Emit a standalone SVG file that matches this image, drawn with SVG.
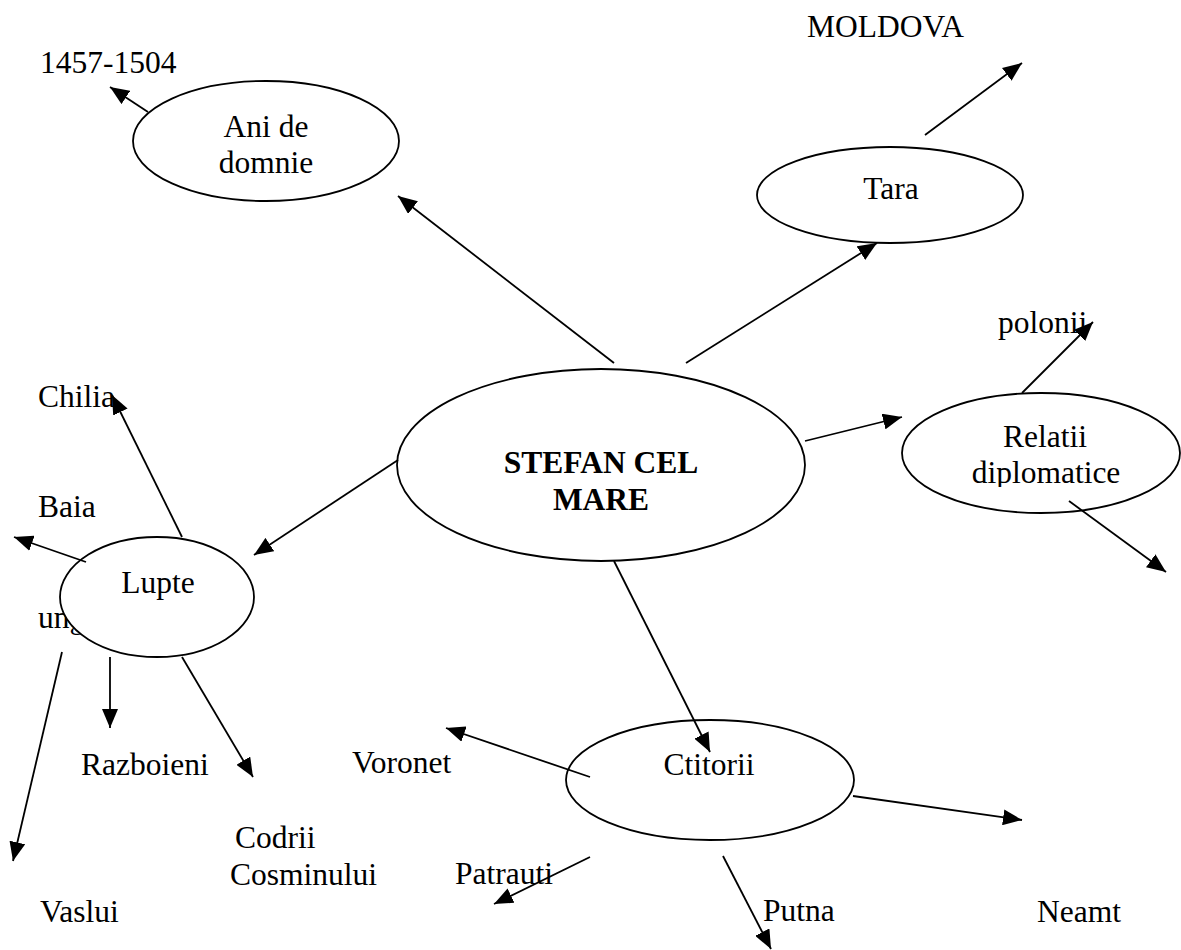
<svg xmlns="http://www.w3.org/2000/svg" width="1181" height="950" viewBox="0 0 1181 950" font-family="'Liberation Serif', 'DejaVu Serif', serif">
<style>
text{font-family:'Liberation Serif','DejaVu Serif',serif;font-size:31.5px;fill:#000}
.b{font-weight:bold}
.n ellipse{fill:#fff;stroke:#000;stroke-width:1.8}
.c line{stroke:#000;stroke-width:1.8;marker-end:url(#ah)}
</style>
<defs>
<marker id="ah" markerUnits="userSpaceOnUse" markerWidth="20" markerHeight="16" refX="19" refY="8" orient="auto">
<path d="M0,0 L19,8 L0,16 z" fill="#000"/>
</marker>
<clipPath id="clipRel"><rect x="900" y="390" width="281" height="97"/></clipPath>
</defs>
<rect width="1181" height="950" fill="#fff"/>
<g id="labels">
<text x="40" y="73">1457-1504</text>
<text x="807" y="37">MOLDOVA</text>
<text x="998" y="333">polonii</text>
<text x="38" y="407">Chilia</text>
<text x="38" y="517">Baia</text>
<text x="38" y="628">ung</text>
<text x="81" y="775">Razboieni</text>
<text x="235" y="848">Codrii</text>
<text x="230" y="885">Cosminului</text>
<text x="40" y="922">Vaslui</text>
<text x="352" y="773">Voronet</text>
<text x="455" y="884">Patrauti</text>
<text x="763" y="921">Putna</text>
<text x="1037" y="922">Neamt</text>
</g>
<g id="node-center" class="n">
<ellipse cx="601" cy="465" rx="204" ry="96"/>
<text class="b" x="601" y="473" text-anchor="middle">STEFAN CEL</text>
<text class="b" x="601" y="510" text-anchor="middle">MARE</text>
</g>
<g id="node-ani" class="n">
<ellipse cx="266" cy="141" rx="133" ry="60"/>
<text x="266" y="137" text-anchor="middle">Ani de</text>
<text x="266" y="173" text-anchor="middle">domnie</text>
</g>
<g id="node-tara" class="n">
<ellipse cx="890" cy="195" rx="133" ry="48"/>
<text x="891" y="199" text-anchor="middle">Tara</text>
</g>
<g id="node-relatii" class="n">
<ellipse cx="1041" cy="453" rx="139" ry="60"/>
<text x="1045" y="447" text-anchor="middle">Relatii</text>
<text x="1046" y="483" text-anchor="middle" clip-path="url(#clipRel)">diplomatice</text>
</g>
<g id="node-lupte" class="n">
<ellipse cx="157" cy="597" rx="97" ry="60"/>
<text x="158" y="593" text-anchor="middle">Lupte</text>
</g>
<g id="node-ctitorii" class="n">
<ellipse cx="710" cy="780" rx="144" ry="60"/>
<text x="709" y="775" text-anchor="middle">Ctitorii</text>
</g>
<g id="connectors" class="c">
<line x1="614" y1="363" x2="398" y2="196"/>
<line x1="686" y1="363" x2="877" y2="243"/>
<line x1="805" y1="441" x2="902" y2="417"/>
<line x1="398" y1="460" x2="254" y2="555"/>
<line x1="614" y1="561" x2="710" y2="752"/>
<line x1="148" y1="112" x2="110" y2="87"/>
<line x1="925" y1="135" x2="1022" y2="63"/>
<line x1="1022" y1="393" x2="1093" y2="322"/>
<line x1="1069" y1="501" x2="1166" y2="572"/>
<line x1="182" y1="537" x2="112" y2="395"/>
<line x1="86" y1="562" x2="14" y2="537"/>
<line x1="62" y1="652" x2="13" y2="861"/>
<line x1="110" y1="657" x2="110" y2="728"/>
<line x1="182" y1="657" x2="253" y2="777"/>
<line x1="590" y1="777" x2="446" y2="728"/>
<line x1="590" y1="857" x2="494" y2="904"/>
<line x1="723" y1="856" x2="771" y2="949"/>
<line x1="853" y1="796" x2="1022" y2="820"/>
</g>
</svg>
